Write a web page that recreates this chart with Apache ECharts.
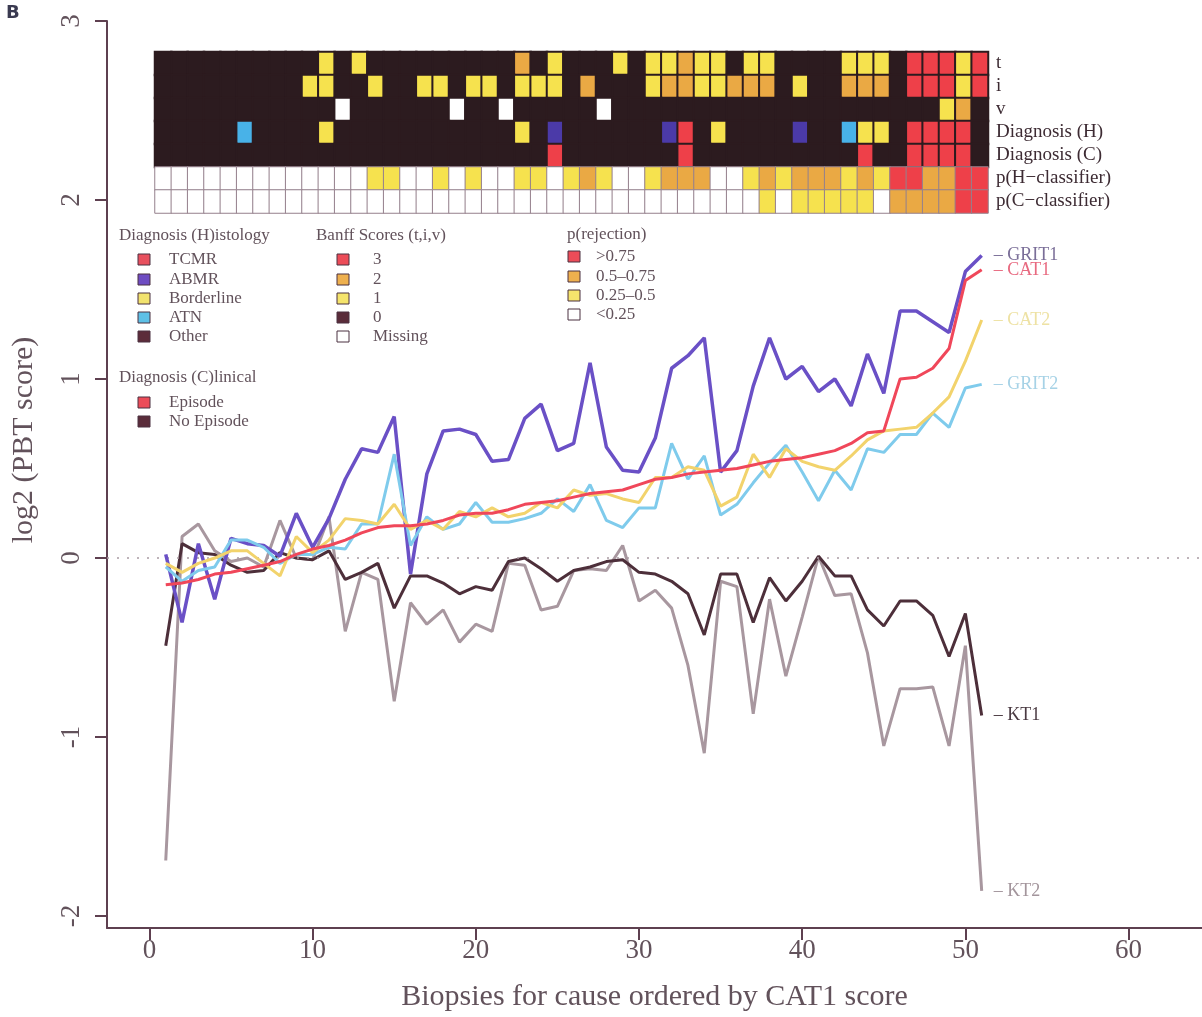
<!DOCTYPE html>
<html>
<head>
<meta charset="utf-8">
<script src="https://cdn.jsdelivr.net/npm/echarts@6/dist/echarts.min.js"></script>
<style>
  html, body { margin: 0; padding: 0; background: #ffffff; }
  #chart { width: 1202px; height: 1017px; }
</style>
</head>
<body>
<div id="chart"></div>
<script>
// Biopsy rank (x position) for each biopsy, ordered by CAT1 score
const rank = [1,2,3,4,5,6,7,8,9,10,11,12,13,14,15,16,17,18,19,20,21,22,23,24,25,26,27,28,29,30,
              31,32,33,34,35,36,37,38,39,40,41,42,43,44,45,46,47,48,49,50,51];

// log2 PBT scores per biopsy
const grit1 = [0.02,-0.36,0.08,-0.23,0.11,0.08,0.07,0.01,0.25,0.06, 0.22,0.44,0.61,0.59,0.79,-0.09,0.47,0.71,0.72,0.69,
               0.54,0.55,0.78,0.86,0.60,0.64,1.09,0.62,0.49,0.48, 0.67,1.06,1.13,1.23,0.48,0.60,0.96,1.23,1.00,1.07,
               0.93,1.00,0.85,1.14,0.92,1.38,1.38,1.32,1.26,1.60, 1.69];
const cat1  = [-0.15,-0.14,-0.12,-0.09,-0.08,-0.06,-0.04,-0.02,0.02,0.05, 0.07,0.10,0.14,0.17,0.18,0.18,0.19,0.21,0.24,0.25,
               0.25,0.27,0.30,0.31,0.32,0.34,0.36,0.37,0.38,0.41, 0.44,0.45,0.47,0.48,0.49,0.50,0.52,0.54,0.55,0.56,
               0.58,0.60,0.64,0.70,0.71,1.00,1.01,1.06,1.17,1.55, 1.61];
const cat2  = [-0.03,-0.08,-0.03,0.00,0.04,0.04,-0.03,-0.10,0.12,0.03, 0.10,0.22,0.21,0.19,0.30,0.16,0.21,0.16,0.26,0.23,
               0.28,0.23,0.25,0.31,0.28,0.38,0.35,0.36,0.33,0.31, 0.45,0.45,0.51,0.49,0.29,0.34,0.58,0.45,0.61,0.54,
               0.51,0.49,0.57,0.66,0.71,0.72,0.73,0.81,0.90,1.10, 1.33];
const grit2 = [-0.05,-0.13,-0.07,-0.05,0.10,0.10,0.06,-0.03,0.02,0.02, 0.06,0.05,0.19,0.19,0.58,0.07,0.23,0.16,0.19,0.31,
               0.20,0.20,0.22,0.25,0.33,0.26,0.41,0.21,0.17,0.28, 0.28,0.64,0.44,0.57,0.24,0.30,0.42,0.53,0.63,0.48,
               0.32,0.49,0.38,0.61,0.59,0.69,0.69,0.81,0.73,0.95, 0.97];
const kt1   = [-0.49,0.08,0.03,0.02,-0.04,-0.08,-0.07,0.03,0.00,-0.01, 0.04,-0.12,-0.08,-0.03,-0.28,-0.10,-0.10,-0.14,-0.20,-0.16,
               -0.18,-0.02,0.00,-0.06,-0.13,-0.07,-0.05,-0.02,-0.01,-0.08, -0.09,-0.13,-0.20,-0.43,-0.09,-0.09,-0.36,-0.11,-0.24,-0.13,
               0.01,-0.10,-0.10,-0.29,-0.38,-0.24,-0.24,-0.32,-0.55,-0.31, -0.88];
const kt2   = [-1.69,0.12,0.19,0.04,-0.02,0.00,-0.05,0.21,0.00,-0.01, 0.23,-0.41,-0.08,-0.12,-0.80,-0.25,-0.37,-0.29,-0.47,-0.37,
               -0.41,-0.03,-0.04,-0.29,-0.27,-0.07,-0.06,-0.07,0.07,-0.24, -0.18,-0.28,-0.60,-1.09,-0.13,-0.16,-0.87,-0.23,-0.66,-0.33,
               0.01,-0.21,-0.20,-0.53,-1.05,-0.73,-0.73,-0.72,-1.05,-0.49, -1.86];

// Axis ticks
const xTicks = [0, 10, 20, 30, 40, 50, 60];
const yTicks = [-2, -1, 0, 1, 2, 3];

// Annotation rows above the curves (one entry per biopsy)
// Banff scores: -1 = missing, 0..3
const banffT = [0,0,0,0,0,0,0,0,0,0, 1,0,1,0,0,0,0,0,0,0, 0,0,2,0,1,0,0,0,1,0, 1,1,2,1,1,0,1,1,0,0, 0,0,1,1,1,0,3,3,3,1, 3];
const banffI = [0,0,0,0,0,0,0,0,0,1, 1,0,0,1,0,0,1,1,0,1, 1,0,1,1,1,0,2,0,0,0, 1,2,2,1,1,2,2,2,0,1, 0,0,2,2,2,0,3,3,3,1, 3];
const banffV = [0,0,0,0,0,0,0,0,0,0, 0,-1,0,0,0,0,0,0,-1,0, 0,-1,0,0,0,0,0,-1,0,0, 0,0,0,0,0,0,0,0,0,0, 0,0,0,0,0,0,0,0,1,2, 0];
// Histology diagnosis: O other, T TCMR, A ABMR, B borderline, N ATN
const dxHist = ['O','O','O','O','O','N','O','O','O','O', 'B','O','O','O','O','O','O','O','O','O',
                'O','O','B','O','A','O','O','O','O','O', 'O','A','T','O','B','O','O','O','O','A',
                'O','O','N','B','B','O','T','T','T','T', 'O'];
// Clinical diagnosis: 1 episode, 0 no episode
const dxClin = [0,0,0,0,0,0,0,0,0,0, 0,0,0,0,0,0,0,0,0,0, 0,0,0,0,1,0,0,0,0,0, 0,0,1,0,0,0,0,0,0,0, 0,0,0,1,0,0,1,1,1,1, 0];
// Classifier probability class: 0 <0.25, 1 0.25-0.5, 2 0.5-0.75, 3 >0.75
const pHist = [0,0,0,0,0,0,0,0,0,0, 0,0,0,1,1,0,0,1,0,1, 0,0,1,1,0,1,2,1,0,0, 1,2,2,2,0,0,1,2,1,2, 2,2,1,2,1,3,3,2,2,3, 3];
const pClin = [0,0,0,0,0,0,0,0,0,0, 0,0,0,0,0,0,0,0,0,0, 0,0,0,0,0,0,0,0,0,0, 0,0,0,0,0,0,0,1,0,1, 1,1,1,1,0,2,2,2,2,3, 3];

const rowNames = ['t', 'i', 'v', 'Diagnosis (H)', 'Diagnosis (C)', 'p(H\u2212classifier)', 'p(C\u2212classifier)'];

// Legend entries
const legendHist  = ['TCMR', 'ABMR', 'Borderline', 'ATN', 'Other'];
const legendBanff = ['3', '2', '1', '0', 'Missing'];
const legendP     = ['>0.75', '0.5\u20130.75', '0.25\u20130.5', '<0.25'];
const legendClin  = ['Episode', 'No Episode'];

// ---- styling ----
const SERIF = '"Liberation Serif", "DejaVu Serif", serif';
const AXIS_COL = '#5e4050';
const TEXT_COL = '#62525b';
const DARK = '#2c1b1f';
const YEL = '#f6e24e', ORA = '#eaa944', RED = '#ee4049', WHITE = '#ffffff';
const banffPal = { '-1': WHITE, '0': DARK, '1': YEL, '2': ORA, '3': RED };
const histPal = { O: DARK, T: RED, A: '#4b3aa8', B: YEL, N: '#48b2e8' };
const clinPal = { '0': DARK, '1': RED };
const probPal = { '0': WHITE, '1': YEL, '2': ORA, '3': RED };

const annotRows = [
  { vals: banffT, pal: banffPal, lower: false },
  { vals: banffI, pal: banffPal, lower: false },
  { vals: banffV, pal: banffPal, lower: false },
  { vals: dxHist, pal: histPal, lower: false },
  { vals: dxClin, pal: clinPal, lower: false },
  { vals: pHist, pal: probPal, lower: true },
  { vals: pClin, pal: probPal, lower: true }
];

const cells = [];
annotRows.forEach((row, r) => {
  row.vals.forEach((v, c) => {
    cells.push({
      value: [c, r, 0],
      itemStyle: {
        color: row.pal[String(v)],
        borderColor: row.lower ? '#95808c' : DARK,
        borderWidth: row.lower ? 1 : 2
      }
    });
  });
});

const lineDefs = [
  { name: 'KT2',   vals: kt2,   color: '#a8979f', label: '#a3959c', w: 3 },
  { name: 'KT1',   vals: kt1,   color: '#4d2f3a', label: '#4a3a42', w: 3 },
  { name: 'GRIT1', vals: grit1, color: '#6a50c6', label: '#7a6e98', w: 3.5 },
  { name: 'GRIT2', vals: grit2, color: '#7fcbec', label: '#a6d2e6', w: 3 },
  { name: 'CAT2',  vals: cat2,  color: '#f2d36c', label: '#eee2a4', w: 3 },
  { name: 'CAT1',  vals: cat1,  color: '#f0475a', label: '#e86a80', w: 3 }
];

const lineSeries = lineDefs.map((d, i) => ({
  type: 'line',
  name: d.name,
  xAxisIndex: 0,
  yAxisIndex: 0,
  data: rank.map((x, k) => [x, d.vals[k]]),
  symbol: 'none',
  lineStyle: { color: d.color, width: d.w },
  itemStyle: { color: d.color },
  z: 3 + i,
  endLabel: {
    show: true,
    formatter: '\u2013 ' + d.name,
    color: d.label,
    fontFamily: SERIF,
    fontSize: 18,
    distance: 12
  },
  markLine: i === 0 ? {
    silent: true,
    symbol: 'none',
    label: { show: false },
    lineStyle: { type: [2, 8], color: '#a99aa2', width: 1.5 },
    data: [{ yAxis: 0 }]
  } : undefined
}));

// legend graphics
const graphics = [];
function legendTitle(text, x, y) {
  graphics.push({ type: 'text', x: x, y: y, style: { text: text, fontFamily: SERIF, fontSize: 17, fill: TEXT_COL, verticalAlign: 'middle' } });
}
function legendItem(text, color, sx, tx, y) {
  graphics.push({ type: 'rect', shape: { x: sx, y: y - 6, width: 12, height: 11 }, style: { fill: color, stroke: '#4a3040', lineWidth: 1 } });
  graphics.push({ type: 'text', x: tx, y: y, style: { text: text, fontFamily: SERIF, fontSize: 17, fill: TEXT_COL, verticalAlign: 'middle' } });
}
const histCols = ['#e8505e', '#6e4cc2', '#f2e36e', '#5ec0e6', '#5c2c3a'];
const banffCols = ['#ec4c58', '#eeb04e', '#f5e46c', '#5a2c3a', '#ffffff'];
const probCols = ['#ec4c58', '#eeb04e', '#f5e46c', '#ffffff'];
const clinCols = ['#ec4c58', '#5a2c3a'];
const rowsY1 = [260, 280, 299, 318, 337];
const rowsY2 = [257, 277, 296, 315];

legendTitle('Diagnosis (H)istology', 119, 236);
legendHist.forEach((t, i) => legendItem(t, histCols[i], 138, 169, rowsY1[i]));
legendTitle('Banff Scores (t,i,v)', 316, 236);
legendBanff.forEach((t, i) => legendItem(t, banffCols[i], 337, 373, rowsY1[i]));
legendTitle('p(rejection)', 567, 235);
legendP.forEach((t, i) => legendItem(t, probCols[i], 568, 596, rowsY2[i]));
legendTitle('Diagnosis (C)linical', 119, 378);
legendClin.forEach((t, i) => legendItem(t, clinCols[i], 138, 169, [403, 422][i]));

graphics.push({ type: 'text', x: 24, y: 440, rotation: Math.PI / 2,
  style: { text: 'log2 (PBT score)', fontFamily: SERIF, fontSize: 30, fill: TEXT_COL, align: 'center', verticalAlign: 'middle' } });
graphics.push({ type: 'text', x: 6, y: 4,
  style: { text: 'B', fontFamily: '"DejaVu Sans", sans-serif', fontWeight: 'bold', fontSize: 18, fill: '#3a3a50' } });

const chart = echarts.init(document.getElementById('chart'), null, { renderer: 'canvas' });
chart.setOption({
  animation: false,
  backgroundColor: '#ffffff',
  grid: [
    { left: 107, right: 0, top: 21, bottom: 89 },
    { left: 155, top: 52, width: 833, height: 161 }
  ],
  xAxis: [
    {
      gridIndex: 0, type: 'value', min: -2.6, max: 64.5,
      name: 'Biopsies for cause ordered by CAT1 score',
      nameLocation: 'middle', nameGap: 54,
      nameTextStyle: { fontFamily: SERIF, fontSize: 30, color: TEXT_COL },
      axisLine: { show: true, onZero: false, lineStyle: { color: AXIS_COL, width: 2 } },
      axisTick: { show: true, length: 12, customValues: xTicks, lineStyle: { color: AXIS_COL, width: 2 } },
      axisLabel: { customValues: xTicks, margin: 9, fontFamily: SERIF, fontSize: 27, color: TEXT_COL },
      splitLine: { show: false }
    },
    { gridIndex: 1, type: 'category', data: rank, show: false }
  ],
  yAxis: [
    {
      gridIndex: 0, type: 'value', min: -2.067, max: 3,
      axisLine: { show: true, onZero: false, lineStyle: { color: AXIS_COL, width: 2 } },
      axisTick: { show: true, length: 12, customValues: yTicks, lineStyle: { color: AXIS_COL, width: 2 } },
      axisLabel: { customValues: yTicks, rotate: 90, margin: 22, fontFamily: SERIF, fontSize: 27, color: TEXT_COL },
      splitLine: { show: false }
    },
    {
      gridIndex: 1, type: 'category', data: rowNames, inverse: true, position: 'right',
      axisLine: { show: false }, axisTick: { show: false }, splitLine: { show: false },
      axisLabel: { interval: 0, margin: 8, fontFamily: SERIF, fontSize: 19, color: '#3d2b33' }
    }
  ],
  series: [
    { type: 'heatmap', xAxisIndex: 1, yAxisIndex: 1, data: cells, z: 2, emphasis: { disabled: true } }
  ].concat(lineSeries),
  graphic: graphics
});
</script>
</body>
</html>
